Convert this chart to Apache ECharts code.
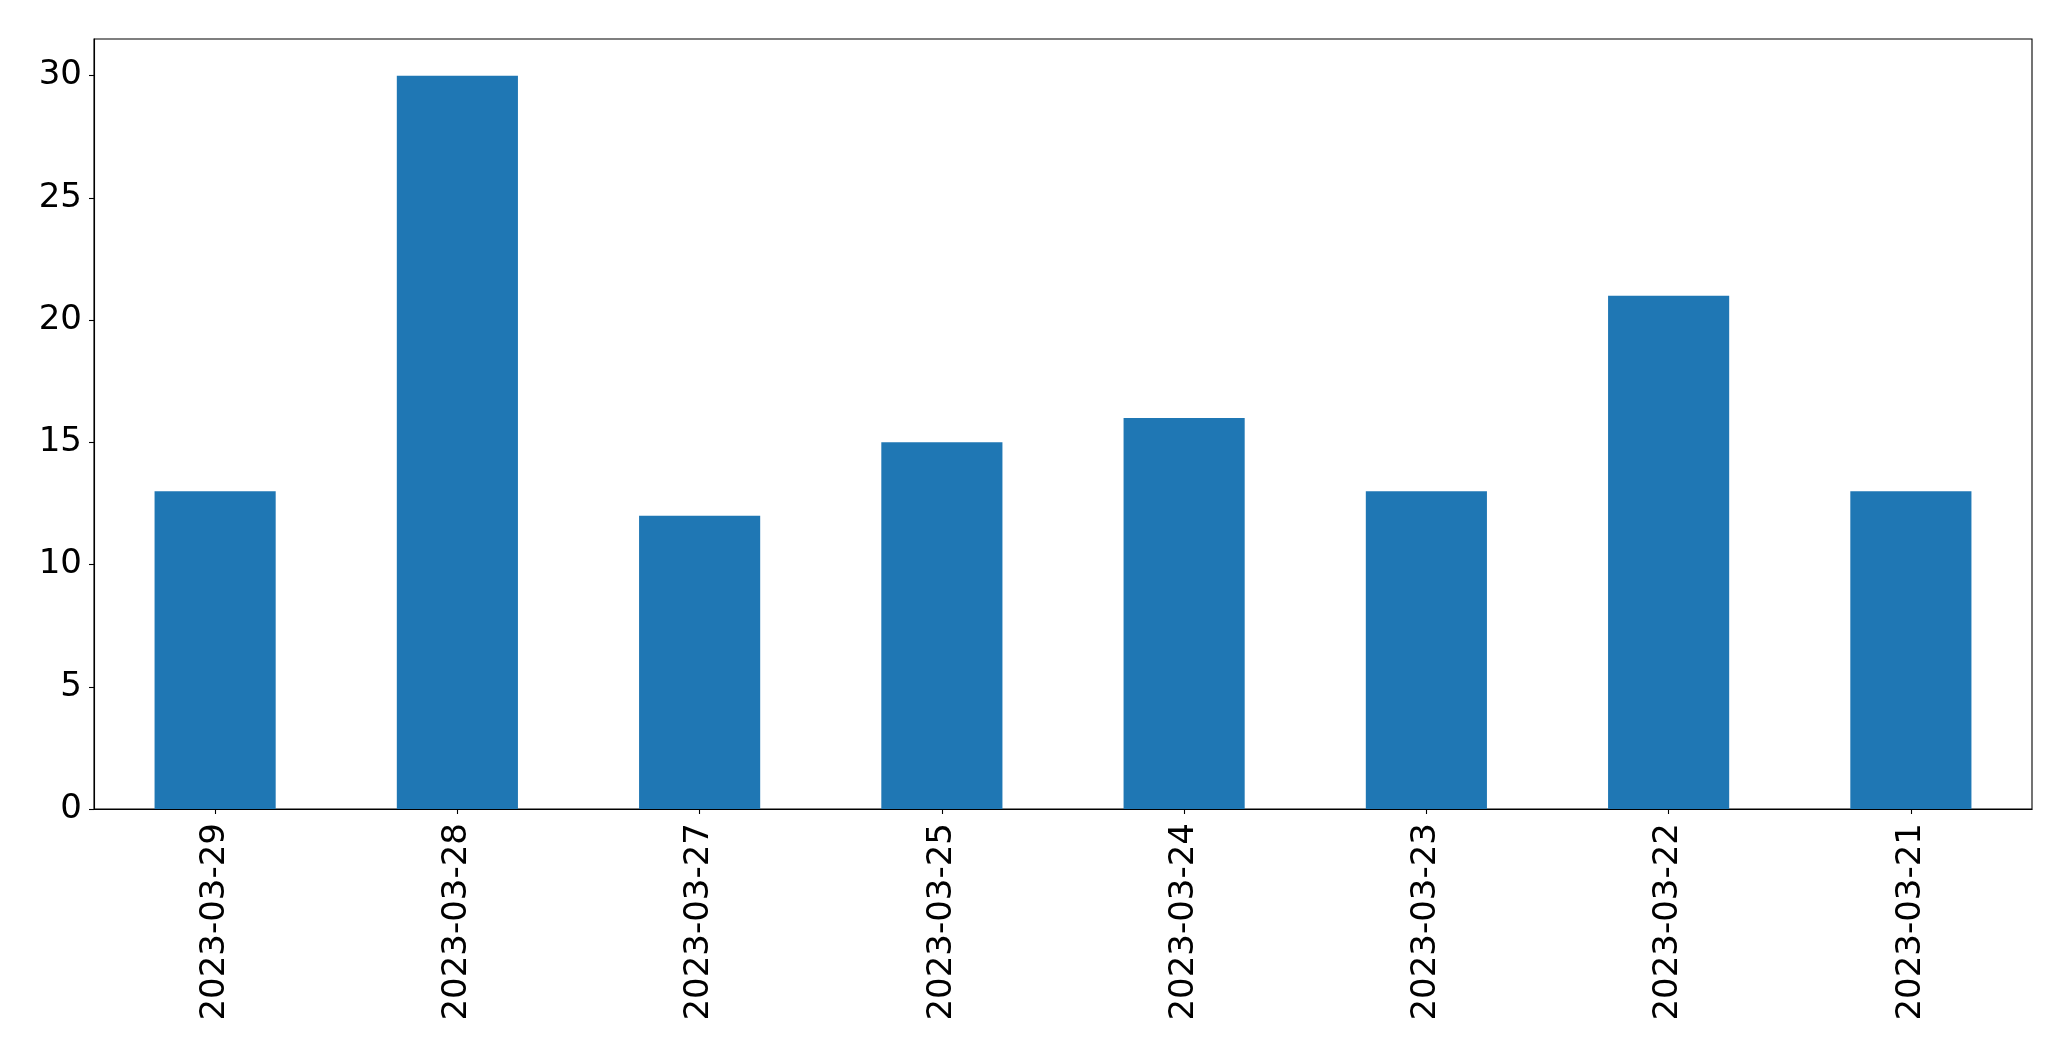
<!DOCTYPE html>
<html>
<head>
<meta charset="utf-8">
<script src="https://cdn.jsdelivr.net/npm/echarts@6/dist/echarts.min.js"></script>
<style>
html,body{margin:0;padding:0;background:#fff;}
#c{width:2071px;height:1061px;}
</style>
</head>
<body>
<div id="c"></div>
<script>
const categories = ['2023-03-29','2023-03-28','2023-03-27','2023-03-25','2023-03-24','2023-03-23','2023-03-22','2023-03-21'];
const values = [13, 30, 12, 15, 16, 13, 21, 13];
const yTicks = [0, 5, 10, 15, 20, 25, 30];

const chart = echarts.init(document.getElementById('c'), null, {renderer: 'canvas'});
const font = 'DejaVu Sans';
chart.setOption({
  animation: false,
  backgroundColor: '#ffffff',
  grid: {
    left: 94, top: 39, right: 39, bottom: 252,
    show: true, borderColor: '#000', borderWidth: 1.1, backgroundColor: 'transparent'
  },
  xAxis: {
    type: 'category',
    data: categories,
    boundaryGap: true,
    axisLine: {show: true, lineStyle: {color: '#000', width: 1.1}},
    axisTick: {show: true, alignWithLabel: true, length: 5, lineStyle: {color: '#000', width: 1.1}},
    axisLabel: {rotate: 90, margin: 14, color: '#000', fontSize: 34, fontFamily: font},
    splitLine: {show: false}
  },
  yAxis: {
    type: 'value',
    min: 0, max: 31.5, interval: 5,
    axisLine: {show: true, lineStyle: {color: '#000', width: 1.1}},
    axisTick: {show: true, length: 5, customValues: yTicks, lineStyle: {color: '#000', width: 1.1}},
    axisLabel: {margin: 12, color: '#000', fontSize: 34, fontFamily: font, customValues: yTicks},
    splitLine: {show: false}
  },
  series: [{
    type: 'bar',
    data: values,
    barWidth: '50%',
    itemStyle: {color: '#1f77b4'}
  }]
});
</script>
</body>
</html>
